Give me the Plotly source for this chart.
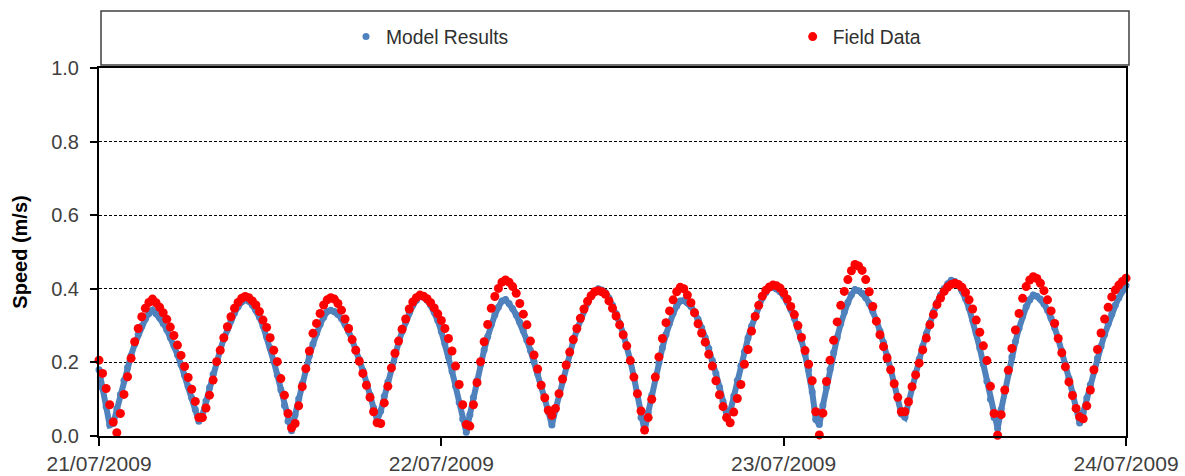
import pandas as pd
import plotly.graph_objects as go

# Sampling times: one record every 15 minutes from 21/07/2009 00:00 to 24/07/2009 00:00
times = pd.date_range("2009-07-21 00:00", periods=289, freq="15min")

# Current speed (m/s) from the numerical model
model_speed = [
    .180, .130, .080, .030, .034, .074, .113, .151, .186, .219, .249, .276,
    .299, .318, .333, .342, .332, .321, .306, .289, .268, .246, .221, .194,
    .165, .135, .104, .072, .040, .057, .095, .132, .168, .202, .234, .264,
    .290, .314, .334, .351, .364, .370, .366, .356, .342, .323, .299, .270,
    .239, .203, .166, .126, .083, .040, .014, .058, .101, .143, .182, .218,
    .250, .279, .303, .323, .338, .342, .338, .330, .319, .303, .284, .261,
    .236, .208, .178, .145, .112, .077, .042, .068, .108, .147, .186, .221,
    .254, .284, .311, .335, .355, .369, .380, .377, .369, .355, .337, .314,
    .284, .251, .216, .176, .135, .091, .046, .010, .058, .105, .151, .194,
    .234, .270, .302, .329, .350, .367, .371, .360, .346, .329, .309, .286,
    .260, .232, .202, .170, .136, .101, .066, .030, .071, .111, .150, .189,
    .224, .258, .288, .316, .341, .362, .379, .393, .400, .397, .390, .375,
    .355, .332, .306, .278, .245, .205, .160, .113, .050, .014, .063, .111,
    .157, .200, .240, .276, .307, .333, .353, .367, .368, .362, .352, .337,
    .317, .294, .267, .238, .205, .170, .133, .094, .056, .066, .109, .151,
    .191, .229, .266, .298, .327, .353, .375, .390, .403, .404, .400, .392,
    .380, .364, .344, .320, .292, .260, .222, .180, .120, .045, .031, .083,
    .133, .181, .227, .268, .305, .337, .363, .384, .398, .395, .388, .376,
    .360, .339, .314, .285, .254, .219, .182, .142, .102, .060, .051, .092,
    .132, .172, .209, .244, .278, .308, .337, .362, .383, .401, .414, .423,
    .420, .411, .395, .373, .347, .315, .279, .239, .195, .149, .100, .050,
    .020, .072, .122, .170, .215, .257, .293, .325, .351, .370, .383, .380,
    .372, .359, .342, .320, .294, .264, .231, .195, .157, .117, .076, .035,
    .064, .103, .139, .176, .211, .244, .276, .305, .331, .355, .376, .395,
    .409,
]

# Measured current speed (m/s) at the field station
field_speed = [
    .206, .170, .129, .085, .038, .009, .061, .113, .161, .211, .256, .292,
    .324, .347, .363, .372, .362, .350, .335, .317, .296, .273, .247, .219,
    .189, .159, .127, .094, .050, .050, .076, .111, .152, .202, .233, .267,
    .297, .324, .347, .363, .374, .379, .376, .367, .356, .338, .315, .295,
    .267, .233, .202, .156, .111, .061, .022, .034, .082, .134, .183, .231,
    .279, .306, .333, .356, .370, .376, .372, .360, .342, .318, .292, .262,
    .233, .203, .170, .138, .105, .066, .036, .034, .090, .135, .185, .225,
    .258, .290, .318, .345, .364, .376, .383, .380, .373, .362, .348, .332,
    .314, .292, .265, .231, .190, .140, .085, .031, .027, .085, .145, .202,
    .256, .303, .347, .379, .401, .418, .424, .418, .406, .388, .360, .331,
    .302, .258, .220, .182, .138, .104, .070, .056, .075, .115, .155, .193,
    .228, .262, .292, .320, .345, .366, .381, .392, .395, .392, .385, .367,
    .347, .326, .302, .275, .245, .205, .160, .115, .068, .016, .050, .100,
    .160, .215, .265, .308, .340, .370, .392, .404, .400, .383, .362, .335,
    .305, .280, .255, .222, .190, .150, .112, .080, .050, .036, .065, .102,
    .140, .195, .235, .285, .325, .355, .380, .396, .405, .410, .408, .402,
    .389, .372, .352, .330, .300, .268, .232, .195, .150, .066, .003, .062,
    .148, .206, .260, .310, .355, .393, .425, .449, .466, .462, .450, .425,
    .392, .352, .312, .275, .243, .212, .180, .142, .105, .066, .066, .093,
    .134, .166, .198, .234, .266, .302, .330, .357, .375, .393, .405, .412,
    .415, .412, .404, .390, .370, .345, .315, .282, .245, .205, .135, .061,
    .002, .058, .125, .179, .238, .288, .333, .374, .406, .424, .433, .428,
    .415, .395, .370, .340, .306, .265, .226, .188, .147, .110, .075, .052,
    .047, .082, .125, .180, .235, .280, .318, .350, .378, .397, .410, .420,
    .429,
]

day_ticks = ["2009-07-21", "2009-07-22", "2009-07-23", "2009-07-24"]
day_labels = ["21/07/2009", "22/07/2009", "23/07/2009", "24/07/2009"]
speed_ticks = [0.0, 0.2, 0.4, 0.6, 0.8, 1.0]
speed_labels = ["0.0", "0.2", "0.4", "0.6", "0.8", "1.0"]

MODEL_BLUE = "#4F81BD"
FIELD_RED = "#FF0000"
FONT = "Liberation Sans, Arial, sans-serif"

fig = go.Figure()

# dense model output drawn as a continuous band of dots
fig.add_trace(go.Scatter(
    x=times, y=model_speed, mode="lines",
    line=dict(color=MODEL_BLUE, width=6),
    showlegend=False, hoverinfo="skip", cliponaxis=False,
))
fig.add_trace(go.Scatter(
    x=times, y=model_speed, mode="markers", name="Model Results",
    marker=dict(color=MODEL_BLUE, size=7),
    cliponaxis=False,
))
fig.add_trace(go.Scatter(
    x=times, y=field_speed, mode="markers", name="Field Data",
    marker=dict(color=FIELD_RED, size=9),
    cliponaxis=False,
))

fig.update_layout(
    width=1185, height=476,
    margin=dict(l=99, r=59, t=68, b=40, autoexpand=False),
    paper_bgcolor="white", plot_bgcolor="white",
    font=dict(family=FONT, size=20, color="#404040"),
    showlegend=True,
    legend=dict(
        orientation="h", x=0.2405, y=1.0842, xanchor="left", yanchor="middle",
        entrywidth=401.7, entrywidthmode="pixels", itemsizing="trace",
        bgcolor="rgba(0,0,0,0)", borderwidth=0,
        font=dict(family=FONT, size=19.3, color="#303030"),
    ),
    shapes=[dict(
        type="rect", xref="paper", yref="paper",
        x0=0.00195, x1=1.00292, y0=1.0082, y1=1.1549,
        line=dict(color="#404040", width=1.5), fillcolor="rgba(0,0,0,0)",
        layer="below",
    )],
)

fig.update_xaxes(
    type="date", range=["2009-07-21", "2009-07-24"],
    tickmode="array", tickvals=day_ticks, ticktext=day_labels,
    ticks="outside", ticklen=8, tickwidth=1.5, tickcolor="black",
    showline=True, linecolor="black", linewidth=2, mirror=True,
    showgrid=False, zeroline=False,
    tickfont=dict(family=FONT, size=21, color="#404040"),
)
fig.update_yaxes(
    range=[0, 1.0],
    tickmode="array", tickvals=speed_ticks, ticktext=speed_labels,
    ticks="outside", ticklen=7, tickwidth=1.5, tickcolor="black",
    ticklabelstandoff=7,
    showline=True, linecolor="black", linewidth=2, mirror=True,
    showgrid=True, gridcolor="black", gridwidth=1, griddash="3px,2px",
    zeroline=False,
    tickfont=dict(family=FONT, size=20, color="#404040"),
    title=dict(text="Speed (m/s)", standoff=18,
               font=dict(family=FONT, size=20, color="black", weight="bold")),
)

fig.write_html("out.html")
